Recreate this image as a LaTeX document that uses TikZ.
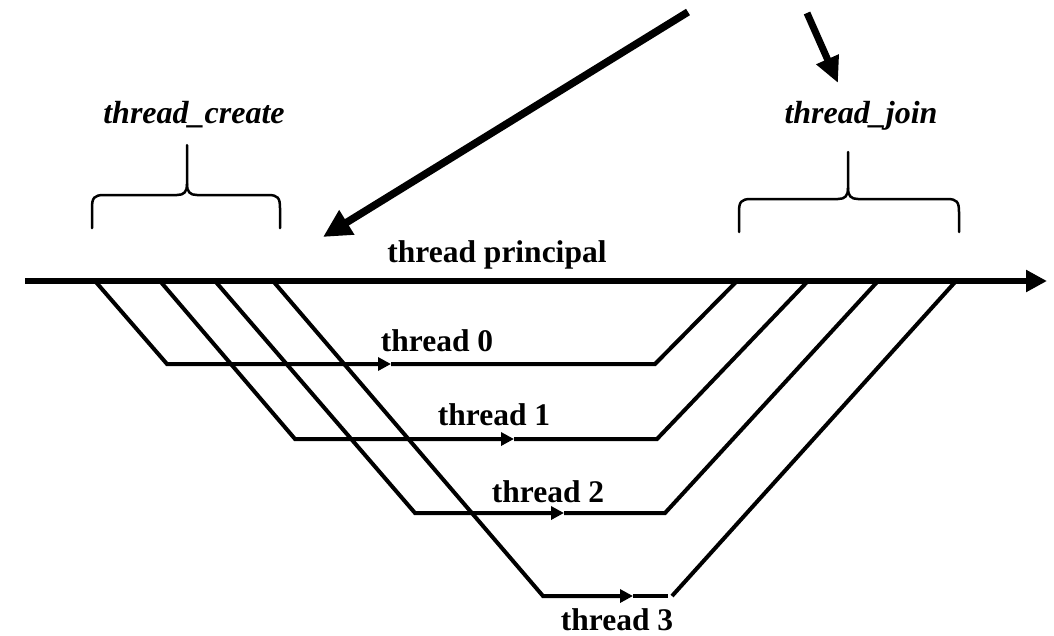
\documentclass[tikz,border=0pt]{standalone}
\usepackage{fontspec}
\setmainfont{Liberation Serif}
\usetikzlibrary{arrows.meta}
\begin{document}
\begin{tikzpicture}[x=1pt,y=-1pt,
  mainline/.style={line width=6.5pt},
  thr/.style={line width=4pt,line join=miter},
  thrarrow/.style={thr,-{Triangle[length=13pt,width=13pt]}},
  bracepath/.style={line width=2.5pt,line cap=round},
  bigarrow/.style={line width=7.5pt,-{Triangle[length=28pt,width=27pt]}},
  lbl/.style={font=\fontsize{31.5}{36}\selectfont\bfseries,anchor=base,inner sep=0pt},
  ilbl/.style={font=\fontsize{32}{36}\selectfont\bfseries\itshape,anchor=base,inner sep=0pt}]
\useasboundingbox (0,0) rectangle (1054,635);
% main thread
\coordinate (m0) at (25,281);
\coordinate (m1) at (1047,281);
\draw[mainline,-{Triangle[length=21pt,width=21pt]}] (m0) -- (m1);
% fork points and join points
\coordinate (f0) at (95,281);  \coordinate (j0) at (737,281);
\coordinate (f1) at (160,281); \coordinate (j1) at (808,281);
\coordinate (f2) at (215,281); \coordinate (j2) at (878,281);
\coordinate (f3) at (273,281); \coordinate (j3) at (956,281);
% thread 0
\coordinate (a0) at (167,364); \coordinate (t0) at (391,364); \coordinate (b0) at (655,364);
\draw[thrarrow] (f0) -- (a0) -- (t0);
\draw[thr] (t0) -- (b0) -- (j0);
% thread 1
\coordinate (a1) at (295,439); \coordinate (t1) at (514,439); \coordinate (b1) at (657,439);
\draw[thrarrow] (f1) -- (a1) -- (t1);
\draw[thr] (t1) -- (b1) -- (j1);
% thread 2
\coordinate (a2) at (415,513); \coordinate (t2) at (564,513); \coordinate (b2) at (665,513);
\draw[thrarrow] (f2) -- (a2) -- (t2);
\draw[thr] (t2) -- (b2) -- (j2);
% thread 3
\coordinate (a3) at (543,596); \coordinate (t3) at (633,596); \coordinate (b3) at (668,596); \coordinate (c3) at (672,596);
\draw[thrarrow] (f3) -- (a3) -- (t3);
\draw[thr] (t3) -- (b3);
\draw[thr] (c3) -- (j3);
% labels
\node[lbl] (lp) at (497,262) {thread principal};
\node[lbl] (l0) at (437,351) {thread 0};
\node[lbl] (l1) at (494,425) {thread 1};
\node[lbl] (l2) at (548,502) {thread 2};
\node[lbl] (l3) at (617,630) {thread 3};
\node[ilbl] (lc) at (194,123) {thread\_create};
\node[ilbl] (lj) at (861,123) {thread\_join};
% braces
\draw[bracepath] (92,228) -- (92,208) .. controls (92,198) and (94,195) .. (104,195) -- (177,195)
  .. controls (184,195) and (187,192) .. (187,184) -- (187,145);
\draw[bracepath] (187,184) .. controls (187,192) and (190,195) .. (197,195) -- (268,195)
  .. controls (278,195) and (280,198) .. (280,208) -- (280,228);
\draw[bracepath] (739,232) -- (739,212) .. controls (739,202) and (741,199) .. (751,199) -- (838,199)
  .. controls (845,199) and (848,196) .. (848,188) -- (848,152);
\draw[bracepath] (848,188) .. controls (848,196) and (851,199) .. (858,199) -- (947,199)
  .. controls (957,199) and (959,202) .. (959,212) -- (959,232);
% big arrows
\coordinate (s1) at (688,12); \coordinate (e1) at (323,237);
\coordinate (s2) at (807,13); \coordinate (e2) at (838,83);
\draw[bigarrow] (s1) -- (e1);
\draw[line width=7pt,-{Triangle[length=26pt,width=23pt]}] (s2) -- (e2);
\end{tikzpicture}
\end{document}
